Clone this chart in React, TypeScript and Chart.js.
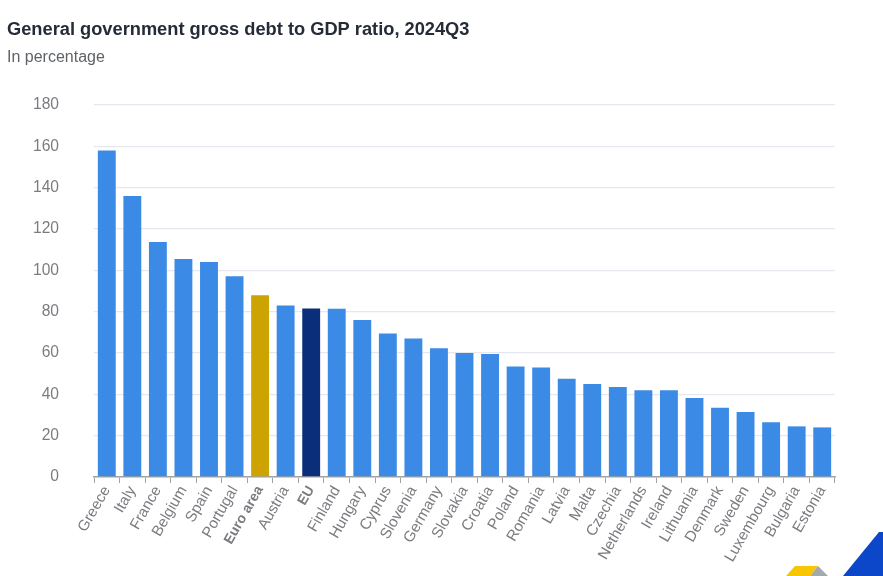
import React, { useEffect, useRef } from "react";
import { Chart, registerables } from "chart.js";

Chart.register(...registerables);

const titleText = "General government gross debt to GDP ratio, 2024Q3";
const subtitleText = "In percentage";
const categories = ["Greece","Italy","France","Belgium","Spain","Portugal","Euro area","Austria","EU","Finland","Hungary","Cyprus","Slovenia","Germany","Slovakia","Croatia","Poland","Romania","Latvia","Malta","Czechia","Netherlands","Ireland","Lithuania","Denmark","Sweden","Luxembourg","Bulgaria","Estonia"];
const debtValues = [158,136,113.8,105.5,104,97.2,88,83,81.5,81.4,76,69.5,67,62.3,60,59.5,53.5,53,47.5,45,43.5,42,42,38.2,33.5,31.5,26.5,24.5,24];
const highlightColors: Record<string, string> = { "Euro area": "#cca300", EU: "#0b2e7a" };
const boldLabels = ["Euro area", "EU"];
const FONT = "'Liberation Sans', Arial, sans-serif";

export default function App() {
  const ref = useRef<HTMLCanvasElement>(null);
  useEffect(() => {
    const chart = new Chart(ref.current!, {
      type: "bar",
      data: {
        labels: categories,
        datasets: [{
          data: debtValues,
          backgroundColor: categories.map((c) => highlightColors[c] ?? "#3b8be6"),
          categoryPercentage: 0.7,
          barPercentage: 1,
        }],
      },
      options: {
        responsive: false,
        animation: false,
        layout: { padding: { left: 7, right: 48, top: 19, bottom: 0 } },
        plugins: {
          legend: { display: false },
          tooltip: { enabled: false },
          title: {
            display: true, text: titleText, align: "start", color: "#262b38",
            font: { family: FONT, size: 18.25, weight: "bold" }, padding: { top: 0, bottom: 7 },
          },
          subtitle: {
            display: true, text: subtitleText, align: "start", color: "#5f6368",
            font: { family: FONT, size: 16 }, padding: { top: 0, bottom: 38 },
          },
        },
        scales: {
          x: {
            afterFit: (s: any) => { s.height = 99; },
            grid: { offset: true, drawOnChartArea: false, drawTicks: true, tickLength: 6, color: "#a3a3a3" },
            border: { color: "#a3a3a3", width: 1.5 },
            ticks: {
              autoSkip: false, minRotation: 60, maxRotation: 60, padding: 0, color: "#7a7c80",
              font: (ctx: any) => {
                const bold = boldLabels.includes(categories[ctx.index]);
                return { family: FONT, size: bold ? 14 : 15.2, weight: bold ? "bold" : "normal" };
              },
            },
          },
          y: {
            min: 0, max: 180,
            afterFit: (s: any) => { s.width = 87; },
            grid: { color: "#e6e8ef", drawTicks: false, lineWidth: 1.3 },
            border: { display: false },
            ticks: { stepSize: 20, padding: 35, color: "#7a7c80", font: { family: FONT, size: 15.6 } },
          },
        },
      },
    } as any);
    return () => chart.destroy();
  }, []);
  return (
    <div style={{ position: "absolute", left: 0, top: 0, width: 883, height: 576, overflow: "hidden", background: "#fff" }}>
      <canvas ref={ref} width={883} height={576} style={{ display: "block" }} />
      <svg width={883} height={576} style={{ position: "absolute", left: 0, top: 0 }}>
        <polygon points="786,576 795,566 818,566 810,576" fill="#f7c600" />
        <polygon points="810,576 818,566 828,576" fill="#a5a8ad" />
        <polygon points="843,576 879,532 883,532 883,576" fill="#0d47c9" />
      </svg>
    </div>
  );
}
